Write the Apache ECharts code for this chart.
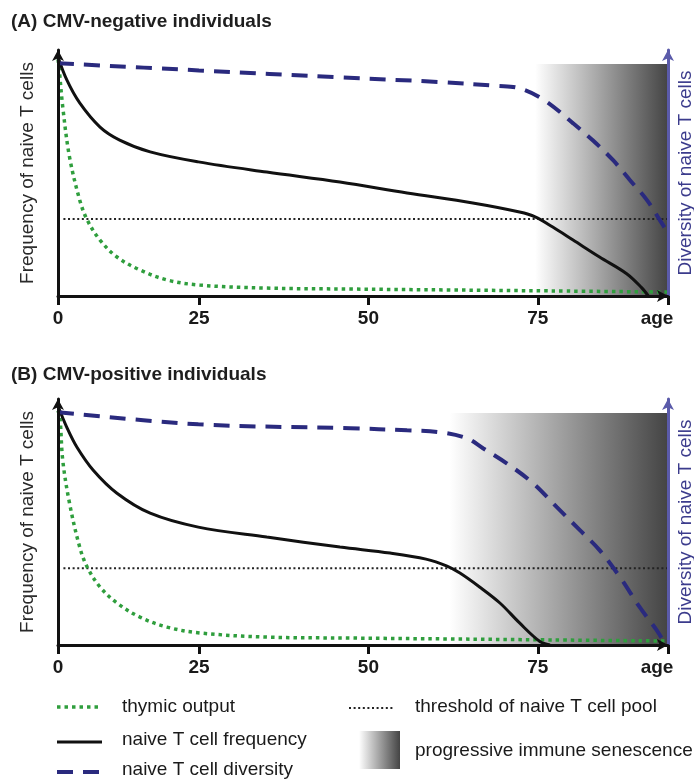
<!DOCTYPE html>
<html>
<head>
<meta charset="utf-8">
<script src="https://cdn.jsdelivr.net/npm/echarts@6/dist/echarts.min.js"></script>
<style>
html,body{margin:0;padding:0;background:#fff;}
#chart{width:694px;height:782px;}
</style>
</head>
<body>
<div id="chart"></div>
<script>
// ---------- data ----------
const X_MIN = 4.2;          // position labelled "0"
const X_MAX = 94.2;         // position labelled "age"
const tickValues = [X_MIN, 25, 50, 75, X_MAX];
const tickLabels = ['0', '25', '50', '75', 'age'];

const panelTitles = ['(A) CMV-negative individuals', '(B) CMV-positive individuals'];
const yNameLeft = 'Frequency of naive T cells';
const yNameRight = 'Diversity of naive T cells';

// Panel A (CMV-negative)
const thymicA_x = [4.2, 4.35, 4.9, 5.9, 7.4, 8.5, 10.4, 12.9, 16.3, 20.3, 25.1, 35, 47.3, 62, 76.8, 94.2];
const thymicA_y = [102, 98.7, 81.5, 59.9, 41.4, 32.8, 24.1, 16.8, 11.2, 6.9, 4.7, 3.4, 3.0, 2.6, 2.2, 1.7];
const freqA_x = [4.2, 5.5, 7.4, 10.4, 13.3, 17.8, 24.9, 35, 45.8, 55.7, 65.4, 72.3, 74.6, 77.2, 80.2, 84.1, 88.1, 90.3, 91.3];
const freqA_y = [103, 93.1, 83.2, 72.8, 67.2, 62.1, 57.8, 53.4, 49.1, 44.4, 40.1, 36.2, 34.1, 29.7, 24.1, 16.8, 9.6, 3.6, 0];
const divA_x = [4.2, 25, 45.8, 60.5, 69, 72.3, 76.0, 80.2, 83.1, 86.1, 88.6, 91.1, 93.0, 94.2];
const divA_y = [100.3, 97.2, 94.2, 92.2, 90.5, 89.5, 84.3, 74.4, 67.1, 58.5, 49.9, 41.3, 32.7, 27.1];
const thresholdA = 33.2;
const senescenceStartA = 74.6;

// Panel B (CMV-positive)
const thymicB_x = [4.2, 4.5, 4.9, 5.9, 7.4, 8.5, 10.4, 12.9, 16.3, 20.3, 25.1, 35, 47.3, 62, 76.8, 94.2];
const thymicB_y = [101, 97.5, 79.6, 61.1, 42.2, 33.6, 25, 18.1, 12, 7.7, 5.2, 3.4, 3.0, 2.6, 2.2, 1.7];
const freqB_x = [4.2, 5.5, 7.0, 9.4, 12.9, 17.8, 24.9, 35, 45.8, 53.2, 58.5, 61.6, 63.5, 66.4, 69.4, 72.3, 75.3, 76.8];
const freqB_y = [103, 93.8, 85.2, 75.3, 65.4, 56.8, 50.8, 46.5, 42.2, 39.6, 37.0, 34.0, 31, 25, 18.1, 9.5, 1.5, 0];
const divB_x = [4.2, 24.9, 47.3, 55.7, 60.5, 64.5, 66.9, 70.4, 74.3, 77.8, 81.2, 84.1, 87.1, 90, 92.5, 93.7];
const divB_y = [100.3, 95.1, 93.4, 92.5, 91.7, 89.1, 84.8, 78.3, 69.7, 59.4, 49.5, 40.9, 29.3, 16.4, 6.5, 0.9];
const thresholdB = 33.1;
const senescenceStartB = 62.0;

const senescenceTop = 100;
const thresholdStart = 5.0;

const legendNames = ['thymic output', 'naive T cell frequency', 'naive T cell diversity',
                     'threshold of naive T cell pool', 'progressive immune senescence'];

// ---------- styles ----------
const FONT = '"Liberation Sans", Arial, Helvetica, sans-serif';
const GREEN = '#2f9e3d';
const BLACK = '#111111';
const NAVY = '#2a2a7e';
const RIGHT_AXIS = '#5b5baa';
const Y_MAX = 106;

const zip = (xs, ys) => xs.map((x, i) => [x, ys[i]]);
const grad = () => new echarts.graphic.LinearGradient(0, 0, 1, 0, [
  {offset: 0, color: '#ffffff'}, {offset: 1, color: '#444444'}
]);

const grids = [
  {left: 58, right: 26, top: 50, height: 246, containLabel: false, outerBoundsMode: 'none'},
  {left: 58, right: 26, top: 399, height: 246, containLabel: false, outerBoundsMode: 'none'}
];

function xAxisFor(i) {
  return {
    gridIndex: i, type: 'value', min: X_MIN, max: X_MAX, z: 5,
    axisLine: {onZero: false, symbol: ['none', 'arrow'], symbolSize: [9, 11],
               lineStyle: {color: BLACK, width: 3}},
    axisTick: {show: true, customValues: tickValues, length: 9, lineStyle: {color: BLACK, width: 3}},
    axisLabel: {
      customValues: tickValues, margin: 13, hideOverlap: false,
      fontFamily: FONT, fontSize: 19, fontWeight: 'bold', color: '#1a1a1a',
      formatter: function (v) {
        const idx = tickValues.findIndex(t => Math.abs(t - v) < 1e-6);
        const s = idx >= 0 ? tickLabels[idx] : '';
        return idx === tickValues.length - 1 ? '{e|' + s + '}' : s;
      },
      rich: {e: {fontFamily: FONT, fontSize: 19, fontWeight: 'bold', color: '#1a1a1a', padding: [0, 22, 0, 0]}}
    },
    splitLine: {show: false}
  };
}
function yAxisLeft(i) {
  return {
    gridIndex: i, type: 'value', min: 0, max: Y_MAX, position: 'left', z: 5,
    name: yNameLeft, nameLocation: 'middle', nameRotate: 90, nameGap: 21,
    nameTextStyle: {fontFamily: FONT, fontSize: 19, color: '#2a2a2a'},
    axisLine: {show: true, symbol: ['none', 'arrow'], symbolSize: [9, 11],
               lineStyle: {color: BLACK, width: 3}},
    axisTick: {show: false}, axisLabel: {show: false}, splitLine: {show: false}
  };
}
function yAxisRight(i) {
  return {
    gridIndex: i, type: 'value', min: 0, max: Y_MAX, position: 'right', z: 5,
    name: yNameRight, nameLocation: 'middle', nameRotate: 90, nameGap: 8,
    nameTextStyle: {fontFamily: FONT, fontSize: 19, color: '#3b3b8c'},
    axisLine: {show: true, symbol: ['none', 'arrow'], symbolSize: [9, 11],
               lineStyle: {color: RIGHT_AXIS, width: 3}},
    axisTick: {show: false}, axisLabel: {show: false}, splitLine: {show: false}
  };
}

function panelSeries(i, thymic, freq, div, threshold, senStart) {
  const base = {type: 'line', xAxisIndex: i, showSymbol: false, symbol: 'none',
                silent: true, animation: false, smooth: 0.35};
  return [
    Object.assign({}, base, {
      name: legendNames[3], yAxisIndex: 2 * i, smooth: false, z: 1,
      data: [[thresholdStart, threshold], [X_MAX, threshold]],
      lineStyle: {color: '#222', width: 2, type: [2, 2.6]},
      markArea: {silent: true, itemStyle: {color: grad()},
                 data: [[{xAxis: senStart, yAxis: 0}, {xAxis: X_MAX, yAxis: senescenceTop}]]}
    }),
    Object.assign({}, base, {
      name: legendNames[0], yAxisIndex: 2 * i, z: 3, data: thymic,
      lineStyle: {color: GREEN, width: 3.5, type: [3.5, 4]}
    }),
    Object.assign({}, base, {
      name: legendNames[1], yAxisIndex: 2 * i, z: 3, data: freq,
      lineStyle: {color: BLACK, width: 3}
    }),
    Object.assign({}, base, {
      name: legendNames[2], yAxisIndex: 2 * i + 1, z: 3, data: div,
      lineStyle: {color: NAVY, width: 4, type: [16, 10]}
    })
  ];
}

const legendText = (t, x, y) => ({type: 'text', x: x, y: y,
  style: {text: t, fontFamily: FONT, fontSize: 19, fill: '#1a1a1a', verticalAlign: 'middle'}});

const option = {
  backgroundColor: '#ffffff',
  animation: false,
  title: [
    {text: panelTitles[0], left: 11, top: 12, padding: 0,
     textStyle: {fontFamily: FONT, fontSize: 19, fontWeight: 'bold', color: '#1e1e1e'}},
    {text: panelTitles[1], left: 11, top: 365, padding: 0,
     textStyle: {fontFamily: FONT, fontSize: 19, fontWeight: 'bold', color: '#1e1e1e'}}
  ],
  grid: grids,
  xAxis: [xAxisFor(0), xAxisFor(1)],
  yAxis: [yAxisLeft(0), yAxisRight(0), yAxisLeft(1), yAxisRight(1)],
  series: [].concat(
    panelSeries(0, zip(thymicA_x, thymicA_y), zip(freqA_x, freqA_y), zip(divA_x, divA_y), thresholdA, senescenceStartA),
    panelSeries(1, zip(thymicB_x, thymicB_y), zip(freqB_x, freqB_y), zip(divB_x, divB_y), thresholdB, senescenceStartB)
  ),
  graphic: [
    {type: 'line', shape: {x1: 57, y1: 707, x2: 102, y2: 707},
     style: {stroke: GREEN, lineWidth: 3.5, lineDash: [3.5, 4]}},
    legendText(legendNames[0], 122, 707),
    {type: 'line', shape: {x1: 57, y1: 742, x2: 102, y2: 742},
     style: {stroke: BLACK, lineWidth: 3}},
    legendText(legendNames[1], 122, 740),
    {type: 'line', shape: {x1: 57, y1: 772, x2: 102, y2: 772},
     style: {stroke: NAVY, lineWidth: 4, lineDash: [16, 10]}},
    legendText(legendNames[2], 122, 770),
    {type: 'line', shape: {x1: 349, y1: 708, x2: 394, y2: 708},
     style: {stroke: '#222', lineWidth: 2, lineDash: [2, 2.6]}},
    legendText(legendNames[3], 415, 707),
    {type: 'rect', shape: {x: 359, y: 731, width: 41, height: 38},
     style: {fill: grad()}},
    legendText(legendNames[4], 415, 751)
  ]
};

const chart = echarts.init(document.getElementById('chart'), null, {renderer: 'canvas'});
chart.setOption(option);
</script>
</body>
</html>
